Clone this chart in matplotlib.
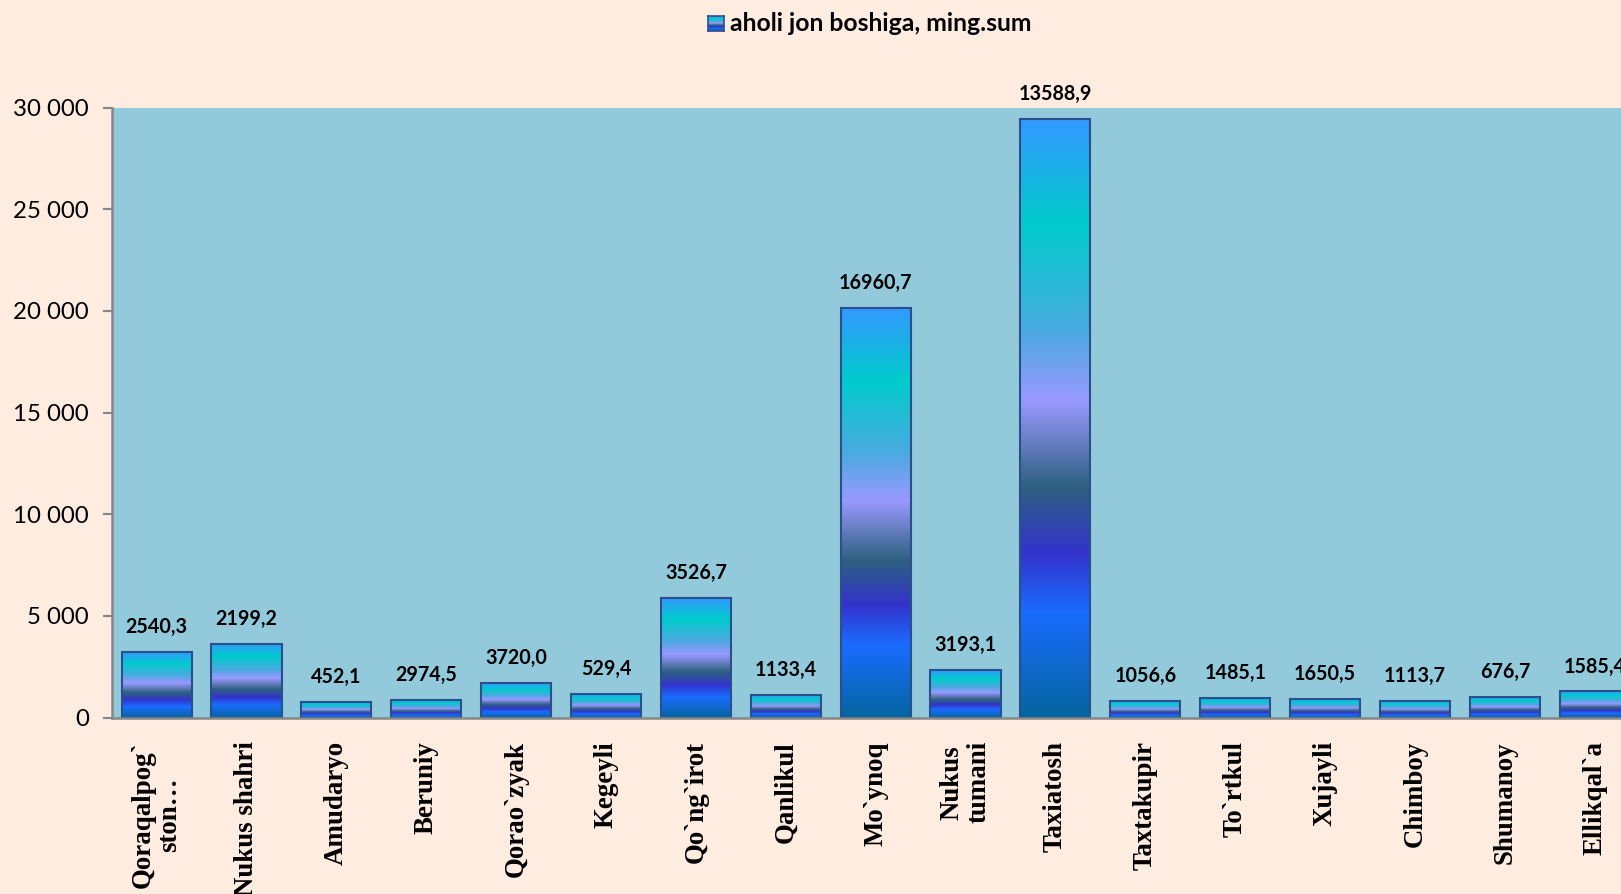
import numpy as np
import matplotlib
matplotlib.use("Agg")
import matplotlib.pyplot as plt
from matplotlib.colors import LinearSegmentedColormap
from matplotlib.ticker import FuncFormatter

# Tumanlar (kategoriyalar)
categories = ["Qoraqalpog`\nston…", "Nukus shahri", "Amudaryo", "Beruniy", "Qorao`zyak",
              "Kegeyli", "Qo`ng`irot", "Qanlikul", "Mo`ynoq", "Nukus\ntumani",
              "Taxiatosh", "Taxtakupir", "To`rtkul", "Xujayli", "Chimboy",
              "Shumanoy", "Ellikqal`a"]

# Ustun balandliklari (rasmdan o'qilgan)
heights = [3230, 3640, 770, 870, 1680, 1160, 5880, 1110, 20140, 2330,
           29440, 790, 950, 890, 820, 1000, 1280]

# Ustun ustidagi yozuvlar
data_labels = ["2540,3", "2199,2", "452,1", "2974,5", "3720,0", "529,4", "3526,7",
               "1133,4", "16960,7", "3193,1", "13588,9", "1056,6", "1485,1",
               "1650,5", "1113,7", "676,7", "1585,4"]

yticks = [0, 5000, 10000, 15000, 20000, 25000, 30000]
legend_text = "aholi jon boshiga, ming.sum"

# Gradient ranglari (pastdan yuqoriga)
stops = [(0.0, "#0565a0"), (0.176, "#1a6cff"), (0.274, "#3333cc"), (0.385, "#2e6080"),
         (0.53, "#9999ff"), (0.647, "#4aaae0"), (0.824, "#00cccc"), (1.0, "#3399ff")]
cmap = LinearSegmentedColormap.from_list("bar_grad", stops)
grad = np.linspace(0, 1, 256).reshape(-1, 1)

bg = "#fdecdf"
plot_bg = "#92cadb"
edge = "#2b4f8a"
axis_gray = "#868686"

fig = plt.figure(figsize=(16.21, 8.94), dpi=100, facecolor=bg)
ax = fig.add_axes([0.0689, 0.1974, 0.9426, 0.6823])
ax.set_facecolor(plot_bg)

x = np.arange(len(categories))
w = 0.78
for xi, h, lab in zip(x, heights, data_labels):
    ax.imshow(grad, cmap=cmap, origin="lower", aspect="auto", interpolation="bilinear",
              extent=[xi - w / 2, xi + w / 2, 0, h], zorder=2)
    ax.annotate(lab, (xi, h), xytext=(0, 18), textcoords="offset points",
                ha="center", va="center", fontsize=14.2, fontweight="bold",
                family="Lato", color="black", zorder=4)
ax.bar(x, heights, width=w, fill=False, edgecolor=edge, linewidth=1.5, zorder=3)

ax.set_xlim(-0.5, len(categories) - 0.5)
ax.set_ylim(0, 30000)
ax.set_yticks(yticks)
ax.yaxis.set_major_formatter(FuncFormatter(lambda v, p: f"{v:,.0f}".replace(",", " ")))
ax.set_xticks(x)
ax.set_xticklabels(categories, rotation=90, fontsize=19.4, fontweight="bold",
                   family="Liberation Serif", linespacing=1.1)
ax.tick_params(axis="x", length=0, pad=17)
ax.tick_params(axis="y", length=6.5, width=1.5, color=axis_gray, pad=10, labelsize=17.3)
for t in ax.get_yticklabels():
    t.set_family("Lato")

for s in ["top", "right"]:
    ax.spines[s].set_visible(False)
for s in ["left", "bottom"]:
    ax.spines[s].set_color(axis_gray)
    ax.spines[s].set_linewidth(1.8)
    ax.spines[s].set_zorder(5)

# Legenda (yuqorida)
lax = fig.add_axes([708 / 1621, 1 - 31 / 894, 16 / 1621, 15 / 894])
lax.imshow(grad, cmap=cmap, origin="lower", aspect="auto")
lax.set_xticks([])
lax.set_yticks([])
for s in lax.spines.values():
    s.set_color(edge)
    s.set_linewidth(1.2)
fig.text(730 / 1621, 1 - 23.5 / 894, legend_text, ha="left", va="center",
         fontsize=17.8, fontweight="bold", family="Lato")

fig.savefig("out.png", dpi=100, facecolor=bg)
